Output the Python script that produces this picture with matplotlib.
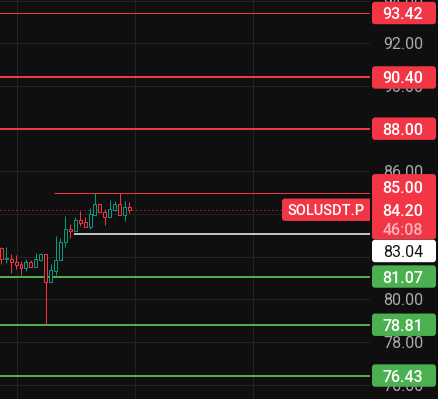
import matplotlib
matplotlib.use("Agg")
import matplotlib.pyplot as plt
from matplotlib.patches import Rectangle, FancyBboxPatch

plt.rcParams['font.family'] = ['Roboto', 'DejaVu Sans']

# OHLC candles
opens  = [82.39, 81.90, 81.88, 81.73, 81.64, 81.48, 81.73, 81.53, 81.86, 82.11,
          80.83, 81.34, 81.83, 82.67, 83.30, 83.22, 83.72, 83.62, 83.41, 83.97,
          84.47, 84.09, 83.88, 84.19, 84.47, 83.94, 84.31]
highs  = [82.44, 82.44, 82.12, 82.06, 81.80, 81.88, 81.84, 82.16, 82.19, 82.11,
          81.66, 82.97, 82.88, 83.91, 83.53, 83.84, 84.16, 83.84, 84.28, 85.00,
          84.47, 84.22, 84.66, 84.59, 85.00, 84.59, 84.56]
lows   = [81.66, 81.69, 81.25, 81.44, 81.13, 81.34, 81.50, 81.53, 81.81, 78.82,
          80.83, 81.13, 81.83, 82.45, 82.88, 83.22, 83.44, 83.41, 83.31, 83.97,
          84.08, 83.50, 83.84, 84.12, 83.94, 83.66, 84.06]
closes = [81.88, 81.95, 81.77, 81.63, 81.48, 81.73, 81.53, 81.89, 82.12, 80.83,
          81.38, 81.84, 82.69, 83.28, 83.22, 83.72, 83.59, 83.41, 84.00, 84.47,
          84.08, 83.88, 84.22, 84.47, 83.94, 84.31, 84.20]

# horizontal levels
levels = [93.42, 90.40, 88.00, 85.00, 83.04, 81.07, 78.81, 76.43]
level_kind = ['red', 'red', 'red', 'red', 'white', 'green', 'green', 'green']
level_start = [None, None, None, 10.75, 14.75, None, None, None]

last_price = 84.20
countdown = "46:08"
symbol = "SOLUSDT.P"
tick_prices = [76, 78, 80, 82, 84, 86, 88, 90, 92, 94]
time_grid = [3.1, 27.05, 51.0]

BG = '#0f0f0f'
GRID = '#232323'
UP = '#089981'
DOWN = '#f23645'
GREEN = '#4caf50'
colors = {'red': DOWN, 'white': '#ffffff', 'green': GREEN}
lw_px = {'red': 2, 'white': 1.5, 'green': 2}

ymin, ymax = 75.33, 94.03
W, H = 438, 399
ppu = H / (ymax - ymin)          # pixels per price unit
pt = 0.72                        # one pixel in points at dpi 100
x0_data, x1_data = -0.264, 74.79
ppx = 370 / (x1_data - x0_data)  # pixels per candle


def px_x(px):
    return x0_data + px / ppx


fig = plt.figure(figsize=(W / 100, H / 100), dpi=100, facecolor=BG)
ax = fig.add_axes([0, 0, 370 / W, 1])
ax.set_facecolor(BG)
ax.set_xlim(x0_data, x1_data)
ax.set_ylim(ymin, ymax)
ax.axis('off')

# grid
for p in tick_prices:
    ax.axhline(p, color=GRID, lw=pt, zorder=0)
for g in time_grid:
    ax.axvline(g, color=GRID, lw=pt, zorder=0)

# levels
for lvl, kind, start in zip(levels, level_kind, level_start):
    w = lw_px[kind]
    if lvl in (93.42, 85.00):
        w = 1
    x0 = -1 if start is None else start
    ax.hlines(lvl, x0, 80, color=colors[kind], lw=w * pt, zorder=1)

ax.axhline(last_price, color=DOWN, lw=pt, ls=(0, (1, 3)), zorder=1)

# candles (hollow)
for i in range(len(opens)):
    o, h, l, c = opens[i], highs[i], lows[i], closes[i]
    col = UP if c >= o else DOWN
    ax.vlines(i, l, h, color=col, lw=pt, zorder=2)
    lo, hi = min(o, c), max(o, c)
    ax.add_patch(Rectangle((i - 0.3, lo), 0.6, max(hi - lo, 0.02),
                           facecolor=BG, edgecolor=col, lw=pt, zorder=3))

# symbol label
sx0, sx1 = px_x(282), px_x(372)
ax.add_patch(FancyBboxPatch((sx0, last_price - 11.2 / ppu), sx1 - sx0, 22.4 / ppu,
                            boxstyle="round,pad=0,rounding_size=0.6",
                            mutation_aspect=ppx / ppu,
                            facecolor=DOWN, edgecolor='none', zorder=5))
ax.text(px_x(326), last_price, symbol, color='white', fontsize=10.5,
        fontweight='medium', ha='center', va='center_baseline', zorder=6)

# price scale
pax = fig.add_axes([370 / W, 0, (W - 370) / W, 1])
pax.set_facecolor(BG)
pax.set_xlim(370, W)
pax.set_ylim(ymin, ymax)
pax.axis('off')

for p in tick_prices:
    if p in (82, 84, 88):
        continue  # fully covered by labels
    pax.text(403, p, f"{p:.2f}", color='#a9abb0', fontsize=11.5,
             ha='center', va='center_baseline', zorder=1)


def box(top, bottom, fc):
    pax.add_patch(FancyBboxPatch((372, bottom), 64, top - bottom,
                                 boxstyle="round,pad=0,rounding_size=3",
                                 mutation_aspect=1 / ppu,
                                 facecolor=fc, edgecolor='none', zorder=3))


for lvl, kind in zip(levels, level_kind):
    if lvl in (85.00, 83.04):
        continue
    box(lvl + 11.2 / ppu, lvl - 11.2 / ppu, colors[kind])
    pax.text(403, lvl, f"{lvl:.2f}", color='white', fontsize=11.5,
             fontweight='medium', ha='center', va='center_baseline', zorder=4)

# merged red box: 85.00 / last price / countdown
box(85.00 + 18.6 / ppu, last_price - 29.7 / ppu, DOWN)
pax.text(403, 85.00 + 5.9 / ppu, "85.00", color='white', fontsize=11.5,
         fontweight='medium', ha='center', va='center_baseline', zorder=4)
pax.text(403, last_price, f"{last_price:.2f}", color='white', fontsize=11.5,
         fontweight='medium', ha='center', va='center_baseline', zorder=4)
pax.text(403, last_price - 19.5 / ppu, countdown, color='#f9b3ba', fontsize=11.5,
         fontweight='medium', ha='center', va='center_baseline', zorder=4)

# white box for 83.04, pushed below
wy = 83.04 - 16.5 / ppu
box(wy + 11.2 / ppu, wy - 11.2 / ppu, '#ffffff')
pax.text(403, wy, "83.04", color='#131313', fontsize=11.5,
         ha='center', va='center_baseline', zorder=4)

fig.savefig("out.png", dpi=100, facecolor=BG)
